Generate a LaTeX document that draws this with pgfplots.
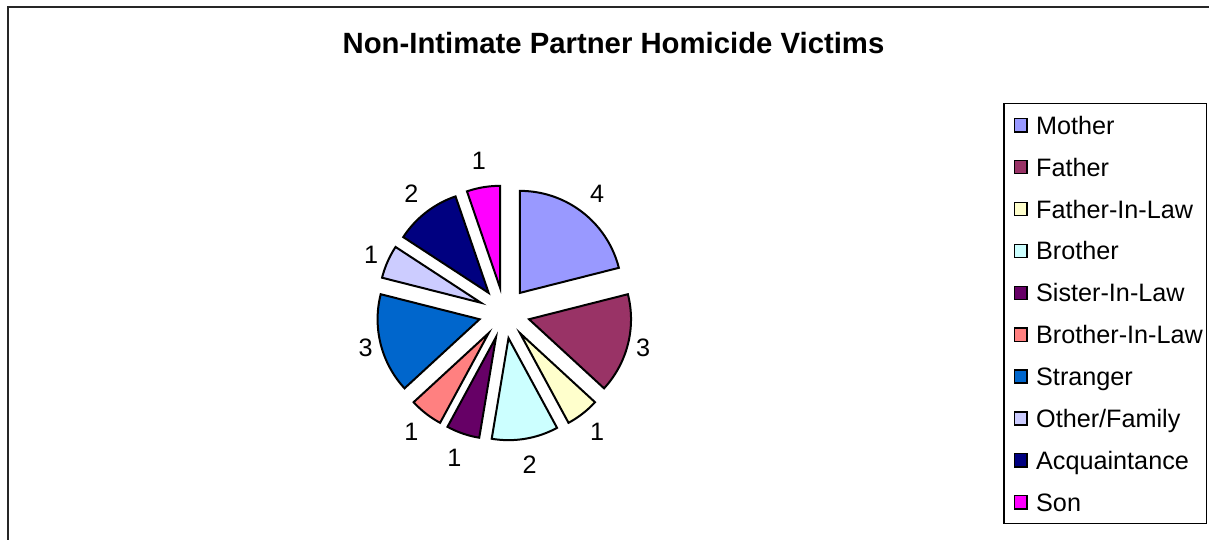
\documentclass[border=0pt]{standalone}
\usepackage{pgfplots}
\usepackage{pgfplotstable}
\pgfplotsset{compat=1.18}
\usepackage{fontspec}
\setmainfont{Liberation Sans}

\definecolor{cMother}{HTML}{9999FF}
\definecolor{cFather}{HTML}{993366}
\definecolor{cFIL}{HTML}{FFFFCC}
\definecolor{cBrother}{HTML}{CCFFFF}
\definecolor{cSIL}{HTML}{660066}
\definecolor{cBIL}{HTML}{FF8080}
\definecolor{cStranger}{HTML}{0066CC}
\definecolor{cOther}{HTML}{CCCCFF}
\definecolor{cAcq}{HTML}{000080}
\definecolor{cSon}{HTML}{FF00FF}

\pgfplotstableread{
name value col
Mother 4 cMother
Father 3 cFather
Father-In-Law 1 cFIL
Brother 2 cBrother
Sister-In-Law 1 cSIL
Brother-In-Law 1 cBIL
Stranger 3 cStranger
Other/Family 1 cOther
Acquaintance 2 cAcq
Son 1 cSon
}\victims

\newcommand\labelfont{\fontsize{12.6}{14}\selectfont}
\newcommand\titlefont{\fontsize{14.65}{17}\selectfont\bfseries}

\begin{document}
\begin{tikzpicture}
% total of all values
\def\total{0}
\pgfplotsforeachungrouped \i in {0,...,9}{%
  \pgfplotstablegetelem{\i}{value}\of\victims
  \pgfmathsetmacro\total{\total+\pgfplotsretval}%
}
\def\cx{504.3}\def\cy{227}\def\dd{25.5}\def\R{102}
\begin{axis}[
  width=604.5pt, height=270pt, scale only axis,
  xmin=0, xmax=1209, ymin=0, ymax=540,
  hide axis,
  legend cell align=left,
  legend style={at={(0.830,0.8087)}, anchor=north west,
    draw=black, line width=0.6pt, fill=white,
    font=\labelfont,
    inner xsep=1pt, inner ysep=4.2pt,
    row sep=7.94pt, column sep=3.2pt,
    nodes={inner sep=1pt, inner ysep=2pt, text height=9pt, text depth=0pt}},
  legend image code/.code={%
    \path (0pt,0pt);
    \draw[#1, line width=0.7pt] (3.6pt,-3.3pt) rectangle (10pt,3.3pt);},
]
\coordinate (BL) at (axis cs:0,0);
\coordinate (TR) at (axis cs:1209,540);
% outer frame
\addplot[forget plot, draw=black!85, line width=1pt] coordinates {(7.5,-5) (7.5,532.5) (1215,532.5)};
% title
\node[font=\titlefont, anchor=base] at (axis cs:613.5,486) {Non-Intimate Partner Homicide Victims};
% exploded pie
\def\astart{90}
\pgfplotsforeachungrouped \i in {0,...,9}{%
  \pgfplotstablegetelem{\i}{value}\of\victims \let\sliceval\pgfplotsretval
  \pgfplotstablegetelem{\i}{col}\of\victims \let\slicecol\pgfplotsretval
  \pgfplotstablegetelem{\i}{name}\of\victims \let\slicename\pgfplotsretval
  \pgfmathsetmacro\aend{\astart-\sliceval*360/\total}%
  \pgfmathsetmacro\amid{(\astart+\aend)/2}%
  \pgfmathsetmacro\ax{\cx+\dd*cos(\amid)}%
  \pgfmathsetmacro\ay{\cy+\dd*sin(\amid)}%
  \pgfmathsetmacro\lr{139.5+14.7*abs(sin(\amid))}%
  \pgfmathsetmacro\lx{\cx+\lr*cos(\amid)}%
  \pgfmathsetmacro\ly{\cy+\lr*sin(\amid)}%
  \edef\doplot{%
    \noexpand\addplot[fill=\slicecol, draw=black, line width=1pt,
      domain=\aend:\astart, samples=40, variable=\noexpand\t]
      ({\ax+\R*cos(\noexpand\t)},{\ay+\R*sin(\noexpand\t)}) -- (axis cs:\ax,\ay) -- cycle;
    \noexpand\addlegendentry{\slicename}
    \noexpand\node[font=\noexpand\labelfont] at (axis cs:\lx,\ly) {\sliceval};
  }%
  \doplot
  \let\astart\aend
}
\end{axis}
\pgfresetboundingbox
\path[use as bounding box] (BL) rectangle (TR);
\end{tikzpicture}
\end{document}
